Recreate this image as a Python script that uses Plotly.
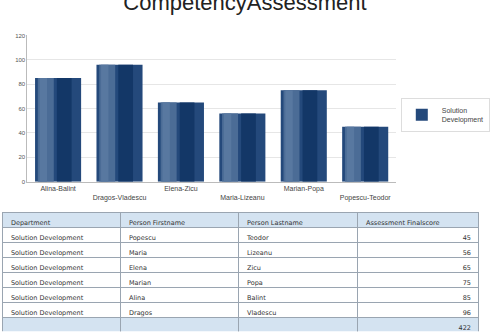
import plotly.graph_objects as go

# Chart data
categories = ["Alina-Balint", "Dragos-Vladescu", "Elena-Zicu", "Maria-Lizeanu", "Marian-Popa", "Popescu-Teodor"]
scores = [85, 96, 65, 56, 75, 45]
series_name = "Solution<br>Development"

# Table data
departments = ["Solution Development"] * 6
firstnames = ["Popescu", "Maria", "Elena", "Marian", "Alina", "Dragos"]
lastnames = ["Teodor", "Lizeanu", "Zicu", "Popa", "Balint", "Vladescu"]
finalscores = [45, 56, 65, 75, 85, 96]
headers = ["Department", "Person Firstname", "Person Lastname", "Assessment Finalscore"]

W, H = 490, 335

def px(v):
    return v / W

def py(v):
    return 1 - v / H

ticktext = [c if i % 2 == 0 else "<br>" + c for i, c in enumerate(categories)]

fig = go.Figure()
# base bar
fig.add_trace(go.Bar(
    x=categories, y=scores, name=series_name,
    width=0.75, offset=-0.375,
    marker=dict(color="#24497b", line=dict(width=0)),
    showlegend=True, hoverinfo="x+y",
))
# cylinder shading bands (same data)
fig.add_trace(go.Bar(
    x=categories, y=scores, width=0.26, offset=-0.33,
    marker=dict(color="#4b6c96", line=dict(width=0)),
    showlegend=False, hoverinfo="skip",
))
fig.add_trace(go.Bar(
    x=categories, y=scores, width=0.12, offset=-0.30,
    marker=dict(color="#5878a0", line=dict(width=0)),
    showlegend=False, hoverinfo="skip",
))
fig.add_trace(go.Bar(
    x=categories, y=scores, width=0.24, offset=-0.02,
    marker=dict(color="#133767", line=dict(width=0)),
    showlegend=False, hoverinfo="skip",
))

total = sum(finalscores)
table_cols = [
    departments + [""],
    firstnames + [""],
    lastnames + [""],
    [str(v) for v in finalscores] + [str(total)],
]
fills = ["white"] * 6 + ["#d4e3f1"]
fig.add_trace(go.Table(
    domain=dict(x=[px(3), 1], y=[0, py(213)]),
    columnwidth=[120, 120, 121, 123],
    header=dict(
        values=headers,
        fill_color="#d4e3f1",
        line=dict(color="#9aa5b1", width=1),
        font=dict(family="DejaVu Sans", size=6.5, color="#333"),
        align="left", height=15,
    ),
    cells=dict(
        values=table_cols,
        fill_color=[fills] * 4,
        line=dict(color="#9aa5b1", width=1),
        font=dict(family="DejaVu Sans", size=6.5, color="#333"),
        align=["left", "left", "left", "right"], height=15,
    ),
))

fig.update_layout(
    width=W, height=H,
    margin=dict(l=0, r=0, t=0, b=0),
    paper_bgcolor="white", plot_bgcolor="white",
    barmode="overlay",
    title=dict(text="CompetencyAssessment", x=0.5, xanchor="center",
               y=1 - 2 / H, yanchor="middle", yref="container",
               font=dict(family="Liberation Sans, Arial", size=22, color="#222")),
    xaxis=dict(domain=[px(28), px(405)], tickvals=categories, ticktext=ticktext,
               tickfont=dict(family="Liberation Sans, Arial", size=7, color="#444"),
               showline=True, linecolor="#bbbbbb", linewidth=1, ticks="",
               showgrid=False, fixedrange=True),
    yaxis=dict(domain=[py(182), py(33)], range=[0, 120], dtick=20,
               tickfont=dict(family="Liberation Sans, Arial", size=6, color="#555"),
               showline=True, linecolor="#bbbbbb", linewidth=1,
               gridcolor="#e6e6e6", gridwidth=1, zeroline=False, ticks=""),
    legend=dict(x=px(410), y=py(97), xanchor="left", yanchor="top",
                bordercolor="#dddddd", borderwidth=1,
                font=dict(family="Liberation Sans, Arial", size=7, color="#444"),
                itemwidth=30, tracegroupgap=0),
)

fig.write_html("out.html")
